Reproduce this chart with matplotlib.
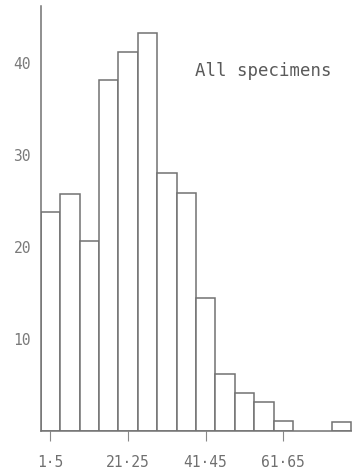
import matplotlib
matplotlib.use("Agg")
import matplotlib.pyplot as plt
import numpy as np

# Size classes (bins of 5) and counts
bin_starts = [1, 6, 11, 16, 21, 26, 31, 36, 41, 46, 51, 56, 61, 66, 71, 76]
counts = [23.8, 25.8, 20.6, 38.1, 41.2, 43.3, 28.0, 25.9, 14.5, 6.2, 4.1, 3.2, 1.1, 0, 0, 1.0]
xtick_bins = [1, 21, 41, 61]
xtick_labels = ["1·5", "21·25", "41·45", "61·65"]
yticks = [10, 20, 30, 40]
title = "All specimens"

W, H = 352, 471
fig = plt.figure(figsize=(W / 100, H / 100), dpi=100)
fig.patch.set_facecolor("white")

left_px, right_px, base_px, top_px = 40.7, 352, 431, 6
px_per_unit_x = 19.4 / 5
px_per_unit_y = 9.2
ax = fig.add_axes([left_px / W, (H - base_px) / H,
                   (right_px - left_px) / W, (base_px - top_px) / H])

edge = "#727272"
centers = [b + 2 for b in bin_starts]
for c, h in zip(centers, counts):
    if h > 0:
        ax.bar(c, h, width=5, color="white", edgecolor=edge, linewidth=1.1, zorder=2)

ax.set_xlim(bin_starts[0] - 0.5, bin_starts[0] - 0.5 + (right_px - left_px) / px_per_unit_x)
ax.set_ylim(0, (base_px - top_px) / px_per_unit_y)

for s in ["top", "right"]:
    ax.spines[s].set_visible(False)
for s in ["left", "bottom"]:
    ax.spines[s].set_color(edge)
    ax.spines[s].set_linewidth(1.1)
    ax.spines[s].set_zorder(3)

ax.set_xticks([b + 2 for b in xtick_bins])
ax.set_xticklabels(xtick_labels, family="DejaVu Sans Mono", fontsize=10.5, color="#707070")
ax.tick_params(axis="x", length=7, width=0.8, color="#888888", pad=10)
ax.set_yticks(yticks)
ax.set_yticklabels([str(v) for v in yticks], family="DejaVu Sans Mono", fontsize=10.5, color="#7a7a7a")
ax.tick_params(axis="y", length=0, pad=7)

ax.text(263.7 / W, 1 - 70.7 / H, title, transform=fig.transFigure,
        family="DejaVu Sans Mono", fontsize=12.5, color="#5a5a5a",
        ha="center", va="center")

fig.savefig("out.png", dpi=100, facecolor="white")
